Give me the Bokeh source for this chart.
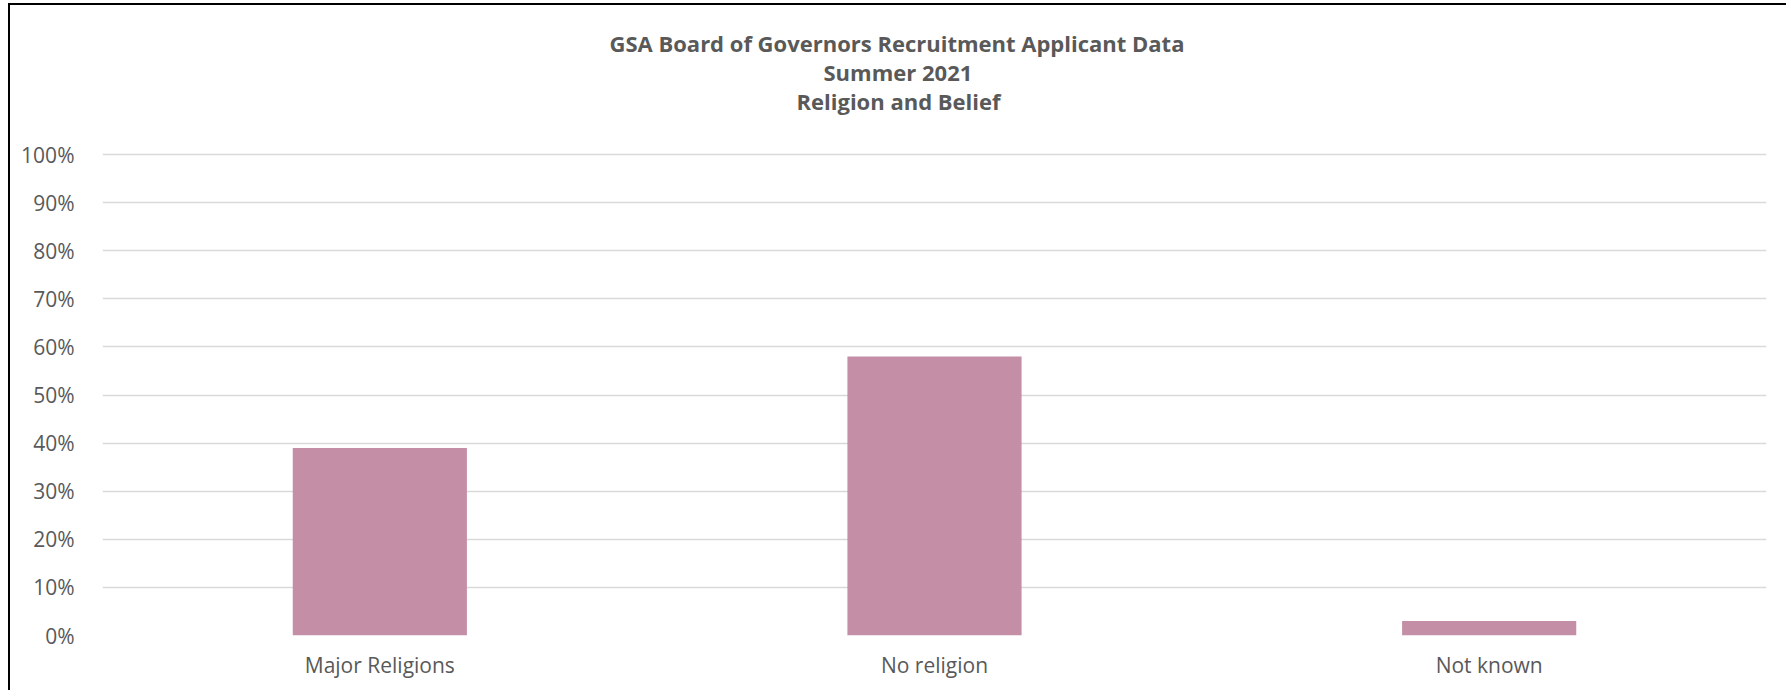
from bokeh.plotting import figure
from bokeh.models import Range1d, FixedTicker, NumeralTickFormatter, Title
from bokeh.embed import file_html
from bokeh.resources import INLINE

categories = ["Major Religions", "No religion", "Not known"]
shares = [0.39, 0.58, 0.03]
y_ticks = [0.0, 0.1, 0.2, 0.3, 0.4, 0.5, 0.6, 0.7, 0.8, 0.9, 1.0]
title_lines = ["GSA Board of Governors Recruitment Applicant Data", "Summer 2021", "Religion and Belief"]
title_offsets = [507, 721, 694]   # left offsets of the title lines from the plot area

FONT = "Open Sans"
TXT = "#595959"

Y_MAX = 521 / 481  # headroom above 100% where the title sits

p = figure(x_range=categories, y_range=Range1d(0, Y_MAX),
           frame_width=1664, frame_height=521,
           min_border_left=92, min_border_right=20, min_border_top=109, min_border_bottom=55,
           output_backend="svg", toolbar_location=None, tools="", title=None)
p.styles = {"border-left": "2px solid black", "border-top": "2px solid black",
            "margin-left": "8px", "margin-top": "3px"}
p.outline_line_color = None
p.background_fill_color = "white"
p.border_fill_color = "white"

p.vbar(x=categories, top=shares, width=0.314, color="#C48FA6", line_color=None)

p.yaxis.ticker = FixedTicker(ticks=y_ticks)
p.yaxis.formatter = NumeralTickFormatter(format="0%")
for ax in (p.xaxis[0], p.yaxis[0]):
    ax.axis_line_color = None
    ax.major_tick_line_color = None
    ax.minor_tick_line_color = None
    ax.major_label_text_font = FONT
    ax.major_label_text_font_size = "21px"
    ax.major_label_text_color = TXT
p.yaxis.major_label_standoff = 22
p.xaxis.major_label_standoff = 9

p.xgrid.grid_line_color = None
p.ygrid.grid_line_color = "#D9D9D9"
p.ygrid.grid_line_width = 1.5

for line, off in reversed(list(zip(title_lines, title_offsets))):
    p.add_layout(Title(text=line, align="left", offset=off, standoff=-3,
                       text_font=FONT, text_font_style="bold", text_font_size="22px",
                       text_color=TXT), "above")

open("out.html", "w").write(file_html(p, INLINE))
